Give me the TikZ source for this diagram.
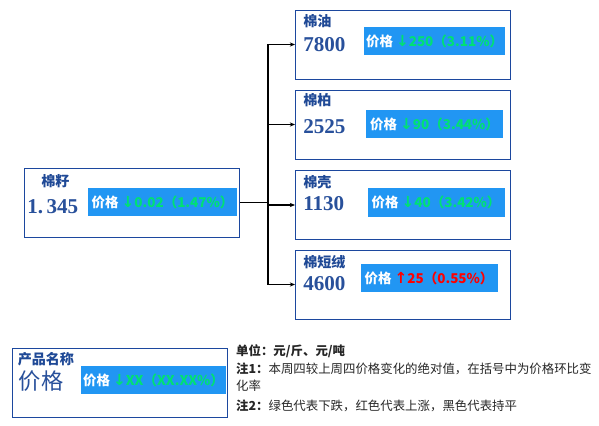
\documentclass[tikz,border=0pt]{standalone}
\usepackage{fontspec}
\newfontfamily\cjk{Noto Sans CJK SC}
\newfontfamily\numfont{Liberation Serif}
\newfontfamily\symfont{DejaVu Sans}
\usetikzlibrary{calc,positioning,arrows.meta}

\definecolor{framecol}{RGB}{28,72,158}
\definecolor{namecol}{RGB}{31,73,150}
\definecolor{numcol}{RGB}{40,80,155}
\definecolor{pricefill}{RGB}{33,150,243}
\definecolor{fallcol}{RGB}{0,225,115}
\definecolor{risecol}{RGB}{255,0,0}

\newcommand{\pricetag}{\textcolor{white}{价格}}
\newcommand{\pricedown}[1]{\textcolor{fallcol}{{\symfont\bfseries\fontsize{13}{13}\selectfont↓}#1}}
\newcommand{\priceup}[1]{\textcolor{risecol}{{\symfont\bfseries\fontsize{13}{13}\selectfont↑}#1}}

\begin{document}
\begin{tikzpicture}[
    x=0.03cm, y=-0.03cm,
    itembox/.style={rectangle, draw=framecol, line width=0.8pt, fill=white, minimum width=6.45cm, minimum height=2.07cm, inner sep=0pt},
    pricebox/.style={rectangle, fill=pricefill, minimum width=4.11cm, minimum height=0.86cm, inner sep=2pt, font=\cjk\bfseries\fontsize{11.5}{13}\selectfont},
    itemname/.style={anchor=west, inner sep=0pt, text=namecol, font=\cjk\bfseries\fontsize{12}{14}\selectfont},
    itemvalue/.style={anchor=west, inner sep=0pt, text=numcol, font=\numfont\bfseries\fontsize{18}{20}\selectfont},
    notetext/.style={anchor=west, inner sep=0pt, text=black!85, font=\cjk\fontsize{10.6}{12}\selectfont},
    arrow/.style={-{Stealth[length=4.5pt, width=3.6pt]}, line width=0.9pt, black},
]
\useasboundingbox (0,0) rectangle (599,425);

% === SOURCE: COTTON SEED ===
\node[itembox] (seed) at (132,202.5) {};
\node[itemname] at ($(seed.north west)+(17,14)$) (seed-name) {棉籽};
\node[itemvalue] at ($(seed.north west)+(3,39)$) (seed-value) {1.\,345};
\node[pricebox, minimum width=4.47cm] at ($(seed.north west)+(138.5,34.5)$) (seed-price) {\pricetag\ \pricedown{0.02（1.47\%）}};

% === PRODUCTS ===
% Cotton oil
\node[itembox] (oil) at (403,44.5) {};
\node[itemname] at ($(oil.north west)+(8,12)$) (oil-name) {棉油};
\node[itemvalue] at ($(oil.north west)+(8,35)$) (oil-value) {7800};
\node[pricebox] at ($(oil.north west)+(139.5,31.5)$) (oil-price) {\pricetag\ \pricedown{250（3.11\%）}};

% Cotton meal
\node[itembox] (meal) at (403,124.5) {};
\node[itemname] at ($(meal.north west)+(8,11)$) (meal-name) {棉柏};
\node[itemvalue] at ($(meal.north west)+(8,37)$) (meal-value) {2525};
\node[pricebox] at ($(meal.north west)+(139.5,34.5)$) (meal-price) {\pricetag\ \pricedown{90（3.44\%）}};

% Cotton hull
\node[itembox] (hull) at (403,205) {};
\node[itemname] at ($(hull.north west)+(8,12)$) (hull-name) {棉壳};
\node[itemvalue] at ($(hull.north west)+(8,34)$) (hull-value) {1130};
\node[pricebox] at ($(hull.north west)+(141,32.5)$) (hull-price) {\pricetag\ \pricedown{40（3.42\%）}};

% Cotton linter
\node[itembox] (linter) at (403,284.5) {};
\node[itemname] at ($(linter.north west)+(8,13)$) (linter-name) {棉短绒};
\node[itemvalue] at ($(linter.north west)+(8,34)$) (linter-value) {4600};
\node[pricebox] at ($(linter.north west)+(134,28.5)$) (linter-price) {\pricetag\ \priceup{25（0.55\%）}};

% === ARROWS ===
\coordinate (split) at ($(seed.east)+(28,0)$);
\draw[line width=0.9pt] (seed.east) -- (split);
\foreach \target in {oil,meal,hull,linter}
  \draw[arrow] (split) |- (\target.west);

% === LEGEND ===
\node[itembox, minimum width=6.45cm] (legend) at (119.5,382.5) {};
\node[itemname] at ($(legend.north west)+(6,12)$) (legend-name) {产品名称};
\node[itemvalue, font=\cjk\fontsize{19}{21}\selectfont] at ($(legend.north west)+(7,34)$) (legend-value) {价格};
\node[pricebox, minimum width=4.14cm] at ($(legend.north west)+(142,32.5)$) (legend-price) {\pricetag\ \pricedown{XX（XX.XX\%）}};

% Notes
\node[notetext] at (236,351) (note-unit) {\textbf{单位：元/斤、元/吨}};
\node[notetext] at (236,369) (note-one) {\textbf{注1：}本周四较上周四价格变化的绝对值，在括号中为价格环比变};
\node[notetext] at (236,386) (note-one-b) {化率};
\node[notetext] at (236,406) (note-two) {\textbf{注2：}绿色代表下跌，红色代表上涨，黑色代表持平};

\end{tikzpicture}
\end{document}
